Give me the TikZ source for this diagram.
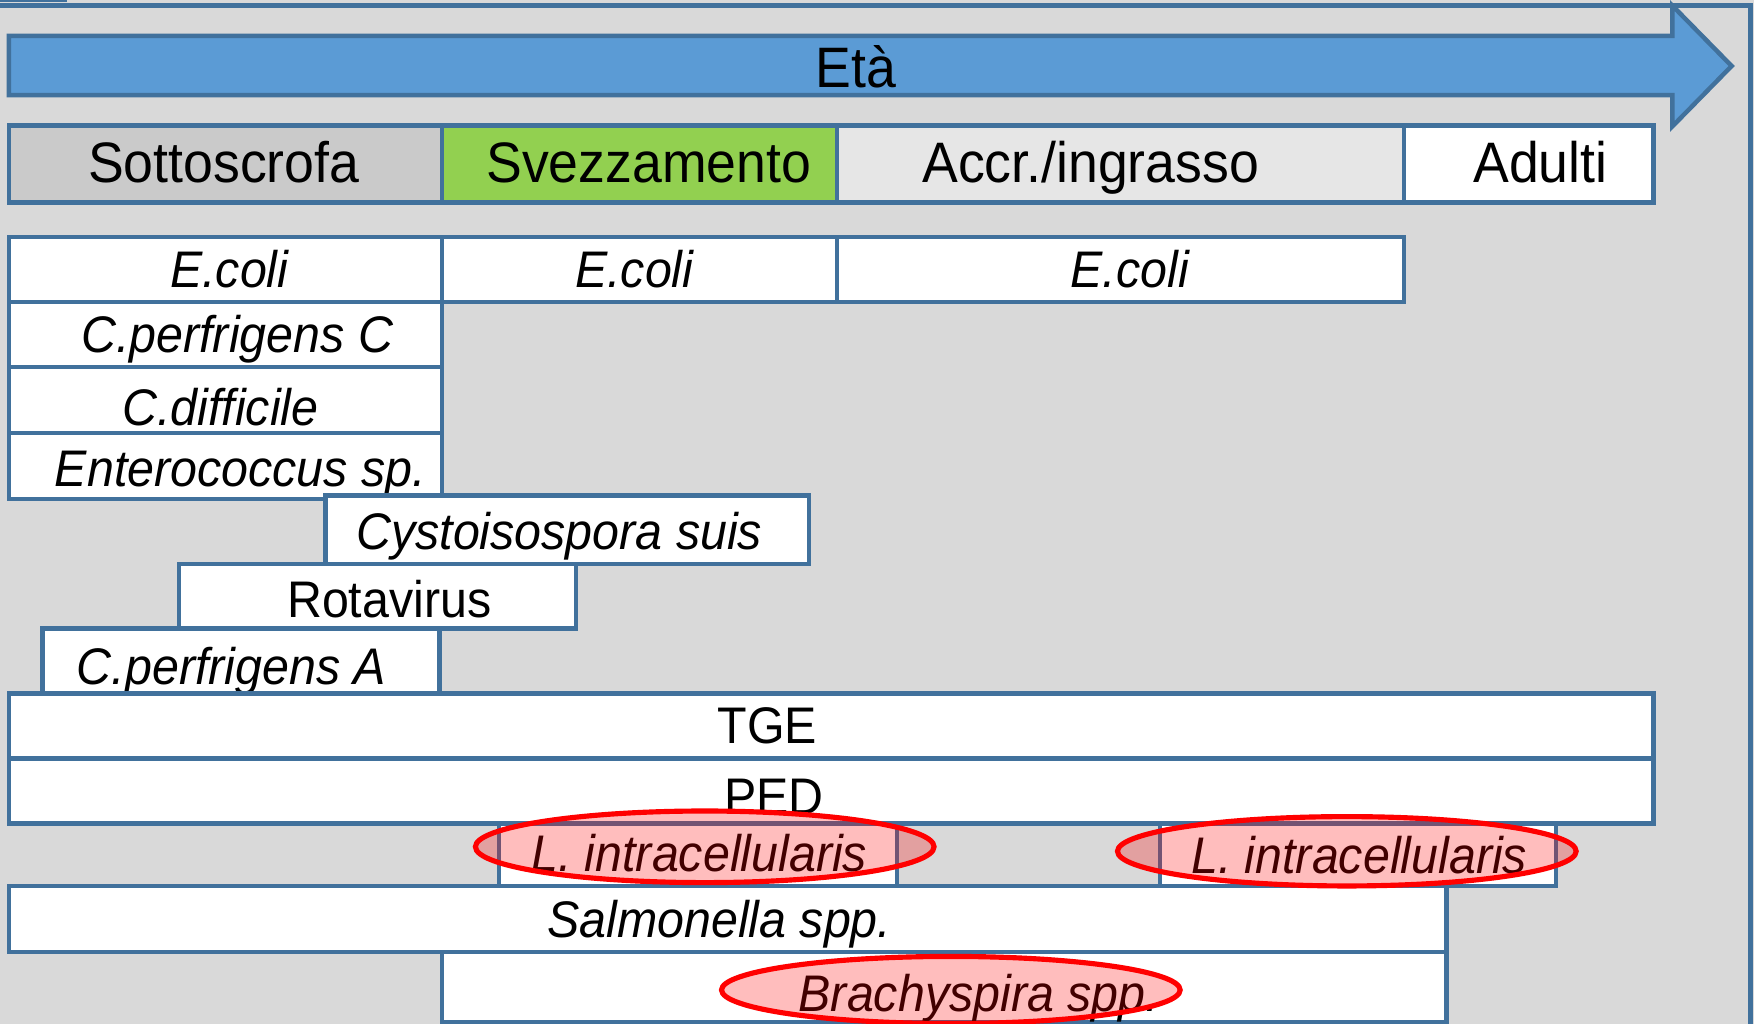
\documentclass[tikz,border=0pt]{standalone}
\usepackage{fontspec}
\setmainfont{Liberation Sans}[FakeStretch=0.94]
\usetikzlibrary{shapes.geometric,fit}
\definecolor{bg}{HTML}{D9D9D9}
\definecolor{bord}{HTML}{41719C}
\definecolor{arrowfill}{HTML}{5B9BD5}
\definecolor{sotto}{HTML}{CACACA}
\definecolor{svez}{HTML}{92D050}
\definecolor{accr}{HTML}{E6E6E6}
\begin{document}
\begin{tikzpicture}[x=0.5pt,y=-0.5pt,
  box/.style={draw=bord,line width=2pt,inner sep=0pt,fill=white},
  sp/.style={font=\fontsize{23}{27}\selectfont\itshape,anchor=base,inner sep=0pt},
  up/.style={font=\fontsize{23}{27}\selectfont,anchor=base,inner sep=0pt},
  hd/.style={font=\fontsize{25.5}{30}\selectfont,anchor=base,inner sep=0pt},
  ring/.style={ellipse,draw=red,line width=2.3pt,fill=red,fill opacity=0.26,inner sep=0pt,minimum width=205pt}]
\useasboundingbox (0,0) rectangle (1568,915);
\fill[bg] (0,0) rectangle (1568,915);
% frame
\fill[bord] (0,0) rectangle (60,2);
\draw[bord,line width=2pt] (0,5) -- (1565,5) -- (1565,916);
% age arrow
\draw[bord,line width=2pt,fill=arrowfill,line join=miter]
  (8,32) -- (1495,32) -- (1495,5) -- (1548,59) -- (1495,113) -- (1495,85) -- (8,85) -- cycle;
\node[hd] (eta) at (765,78) {Età};
% phases
\node[box,fill=sotto,fit={(8,112) (395,181)}] (p1) {};
\node[box,fill=svez,fit={(395,112) (748,181)}] (p2) {};
\node[box,fill=accr,fit={(748,112) (1255,181)}] (p3) {};
\node[box,fit={(1255,112) (1478,181)}] (p4) {};
\node[hd] (tp1) at (200,163) {Sottoscrofa};
\node[hd] (tp2) at (580,163) {Svezzamento};
\node[hd] (tp3) at (975,163) {Accr./ingrasso};
\node[hd] (tp4) at (1377,163) {Adulti};
% E. coli
\node[box,fit={(8,212) (395,270)}] (ec1) {};
\node[box,fit={(395,212) (748,270)}] (ec2) {};
\node[box,fit={(748,212) (1255,270)}] (ec3) {};
\node[sp] (tec1) at (205,257) {E.coli};
\node[sp] (tec2) at (567,257) {E.coli};
\node[sp] (tec3) at (1010,257) {E.coli};
% sottoscrofa pathogens
\node[box,fit={(8,270) (395,328)}] (cpc) {};
\node[sp] (tcpc) at (212,315) {C.perfrigens C};
\node[box,fit={(8,328) (395,387)}] (cdi) {};
\node[sp] (tcdi) at (197,380) {C.difficile};
\node[box,fit={(8,387) (395,446)}] (ent) {};
\node[sp] (tent) at (215,435) {Enterococcus sp.};
\node[box,fit={(291,443) (723,504)}] (cys) {};
\node[sp] (tcys) at (500,491) {Cystoisospora suis};
\node[box,fit={(160,504) (515,562)}] (rot) {};
\node[up] (trot) at (348,552) {Rotavirus};
\node[box,fit={(38,562) (393,620)}] (cpa) {};
\node[sp] (tcpa) at (207,612) {C.perfrigens A};
% wide rows
\node[box,fit={(8,620) (1478,678)}] (tge) {};
\node[up] (ttge) at (686,665) {TGE};
\node[box,fit={(8,678) (1478,736)}] (ped) {};
\node[up] (tped) at (692,728) {PED};
\node[box,fit={(446,736) (802,792)}] (li1) {};
\node[box,fit={(1037,736) (1391,792)}] (li2) {};
\node[sp] (tli1) at (625,779) {L. intracellularis};
\node[sp] (tli2) at (1215,781) {L. intracellularis};
\node[box,fit={(8,792) (1293,851)}] (sal) {};
\node[sp] (tsal) at (643,838) {Salmonella spp.};
\node[box,fit={(395,851) (1293,914)}] (bra) {};
\node[sp] (tbra) at (875,904) {Brachyspira spp.};
% highlight ellipses
\node[ring,minimum height=32pt] (e1) at (630,757) {};
\node[ring,minimum height=31pt] (e2) at (1204,761) {};
\node[ring,minimum height=30pt] (e3) at (850,885) {};
\end{tikzpicture}
\end{document}
